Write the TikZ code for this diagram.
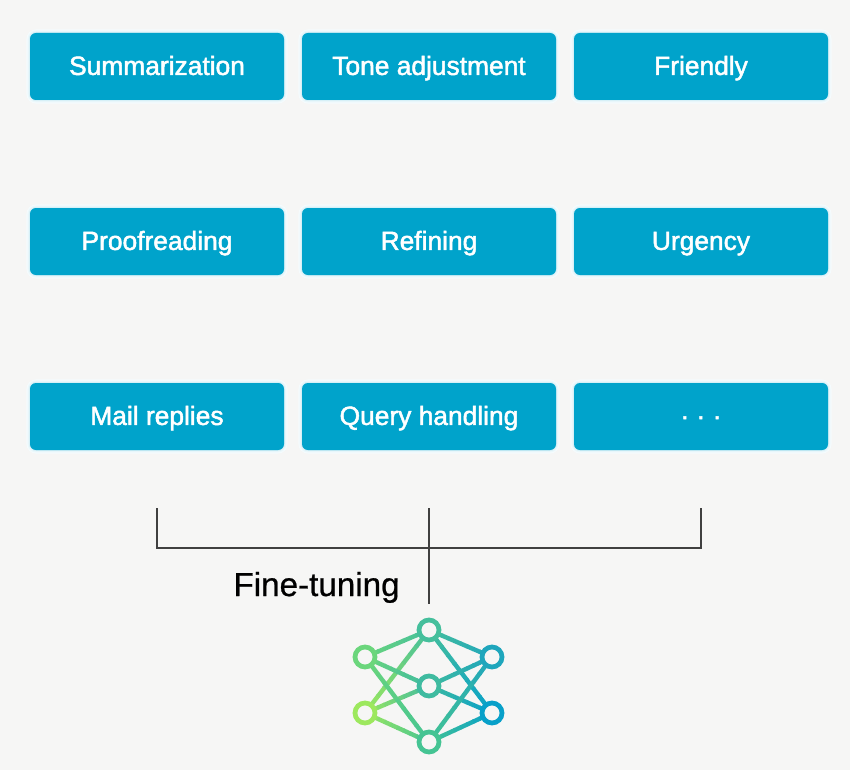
\documentclass[tikz,border=0pt]{standalone}
\usepackage{fontspec}
\setmainfont[FakeBold=.7]{Liberation Sans}
\newfontfamily\boxfont[FakeBold=1.8]{Liberation Sans}
\usetikzlibrary{calc}
\definecolor{pagebg}{HTML}{F6F6F5}
\definecolor{taskblue}{HTML}{00A3CB}
\definecolor{bracketgray}{HTML}{404040}
\definecolor{netLU}{HTML}{6BD67C}
\definecolor{netLL}{HTML}{9DE85E}
\definecolor{netT}{HTML}{45BF9C}
\definecolor{netC}{HTML}{3FBBA0}
\definecolor{netB}{HTML}{45C493}
\definecolor{netRU}{HTML}{1FA6BC}
\definecolor{netRL}{HTML}{08A0C9}
\tikzset{
  task box/.style={rectangle, rounded corners=3.4pt, fill=taskblue, text=white,
    minimum width=5.08cm, minimum height=1.34cm, inner sep=0pt,
    text height=9.6pt, text depth=0pt,
    font=\boxfont\fontsize{15}{18}\selectfont,
    preaction={draw=taskblue!4, line width=4pt},
    preaction={draw=taskblue!8, line width=2.6pt},
    preaction={draw=taskblue!16, line width=1.2pt}},
  bracket/.style={bracketgray, line width=.68pt},
  net site/.style={circle, fill=pagebg, minimum size=.4cm, inner sep=0pt, outer sep=0pt, line width=2.7pt},
  net edge/.style={line width=2.5pt},
}

\begin{document}
\begin{tikzpicture}
  \useasboundingbox[fill=pagebg] (0,0) rectangle (17,15.4);

  % task boxes
  \foreach \name/\x/\y/\lab in {
    summ/3.14/14.07/Summarization, tone/8.58/14.07/Tone adjustment, friendly/14.02/14.07/Friendly,
    proof/3.14/10.57/Proofreading, refine/8.58/10.57/Refining, urgency/14.02/10.57/Urgency,
    mail/3.14/7.07/Mail replies, query/8.58/7.07/Query handling, more/14.02/7.07/{· · ·}}
    \node[task box] (\name) at (\x,\y) {\lab};

  % bracket under the last row
  \coordinate (footL) at (3.14,5.24);
  \coordinate (footM) at (8.58,5.24);
  \coordinate (footR) at (14.02,5.24);
  \coordinate (cornerL) at (3.14,4.44);
  \coordinate (cornerR) at (14.02,4.44);
  \coordinate (stemEnd) at (8.58,3.32);
  \draw[bracket] (footL) -- (cornerL) -- (cornerR) -- (footR);
  \draw[bracket] (footM) -- (stemEnd);
  \node[anchor=base east,inner sep=0pt,font=\fontsize{18.9}{22}\selectfont,text=black] (fine) at (8,3.48) {Fine-tuning};

  % network locations
  \coordinate (T) at (8.58,2.8);
  \coordinate (C) at (8.58,1.68);
  \coordinate (B) at (8.58,.56);
  \coordinate (LU) at (7.3,2.26);
  \coordinate (LL) at (7.3,1.14);
  \coordinate (RU) at (9.84,2.26);
  \coordinate (RL) at (9.84,1.14);

  % edges fade from one end colour to the other
  \foreach \a in {T,C,B}
    \foreach \b in {LU,LL}
      \foreach \i in {0,...,9}
        \draw[net edge,color=net\a!\the\numexpr\i*10+5\relax!net\b]
          ($(\b)!{\i/10}!(\a)$) -- ($(\b)!{(\i+1)/10+.01}!(\a)$);
  \foreach \a in {T,C,B}
    \foreach \b in {RU,RL}
      \foreach \i in {0,...,9}
        \draw[net edge,color=net\b!\the\numexpr\i*10+5\relax!net\a]
          ($(\a)!{\i/10}!(\b)$) -- ($(\a)!{(\i+1)/10+.01}!(\b)$);

  \foreach \p in {T,C,B,LU,LL,RU,RL}
    \node[net site,draw=net\p] (site\p) at (\p) {};
\end{tikzpicture}
\end{document}
